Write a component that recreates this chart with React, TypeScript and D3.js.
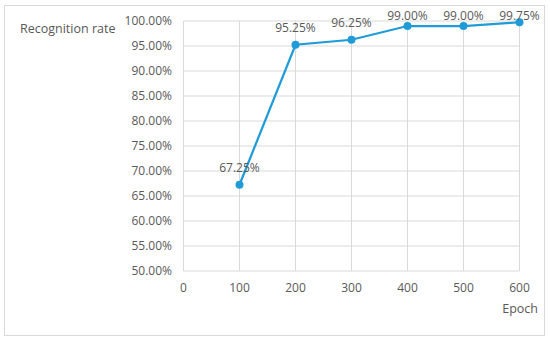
import React from 'react';
import * as d3 from 'd3';

// epochs and recognition rate (%)
const epochs = [100, 200, 300, 400, 500, 600];
const rates = [67.25, 95.25, 96.25, 99.0, 99.0, 99.75];
const xTicks = [0, 100, 200, 300, 400, 500, 600];
const yTicks = [50, 55, 60, 65, 70, 75, 80, 85, 90, 95, 100];

const App = () => {
    const width = 550;
    const height = 342;

    // plot area
    const margin = { top: 21, right: 30.5, bottom: 71, left: 183.5 };
    const xScale = d3.scaleLinear().domain([0, 600]).range([margin.left, width - margin.right]);
    const yScale = d3.scaleLinear().domain([50, 100]).range([height - margin.bottom, margin.top]);

    const data = epochs.map((e, i) => ({ x: e, y: rates[i] }));
    const line = d3.line<{ x: number; y: number }>().x((d) => xScale(d.x)).y((d) => yScale(d.y));

    const textColor = '#595959';
    const gridColor = '#d9d9d9';
    const font = 'Open Sans, sans-serif';

    return (
        <svg width={width} height={height} style={{ position: 'absolute', left: 0, top: 0 }} fontFamily={font}>
            <rect x={0} y={0} width={width} height={height} fill="#fff" />
            <rect x={4.5} y={5.5} width={540} height={330} fill="none" stroke={gridColor} strokeWidth={1} />

            {/* grid */}
            <g>
                {yTicks.map((t) => (
                    <line key={`gy-${t}`} x1={xScale(0)} x2={xScale(600)} y1={yScale(t)} y2={yScale(t)} stroke={gridColor} strokeWidth={1} />
                ))}
                {xTicks.map((t) => (
                    <line key={`gx-${t}`} x1={xScale(t)} x2={xScale(t)} y1={yScale(50)} y2={yScale(100)} stroke={gridColor} strokeWidth={1} />
                ))}
            </g>

            {/* y tick labels */}
            <g fontSize={12} fill={textColor} textAnchor="end">
                {yTicks.map((t) => (
                    <text key={`ty-${t}`} x={172} y={yScale(t) + 4}>{`${t.toFixed(2)}%`}</text>
                ))}
            </g>

            {/* x tick labels */}
            <g fontSize={12} fill={textColor} textAnchor="middle">
                {xTicks.map((t) => (
                    <text key={`tx-${t}`} x={xScale(t)} y={291.5}>{t}</text>
                ))}
            </g>

            <text x={20} y={33} fontSize={12.5} fill={textColor}>Recognition rate</text>
            <text x={538} y={313} fontSize={12.5} fill={textColor} textAnchor="end">Epoch</text>

            {/* series */}
            <path d={line(data) ?? ''} fill="none" stroke="#1f9bd7" strokeWidth={2.25} />
            {data.map((d, i) => (
                <circle key={`pt-${i}`} cx={xScale(d.x)} cy={yScale(d.y)} r={4} fill="#1f9bd7" />
            ))}
            {/* data labels, kept inside the chart frame like the original */}
            <g fontSize={12} fill={textColor} textAnchor="middle">
                {data.map((d, i) => (
                    <text key={`lb-${i}`} x={xScale(d.x)} y={Math.max(yScale(d.y) - 12.5, 19.5)}>{`${d.y.toFixed(2)}%`}</text>
                ))}
            </g>
        </svg>
    );
};

export default App;
